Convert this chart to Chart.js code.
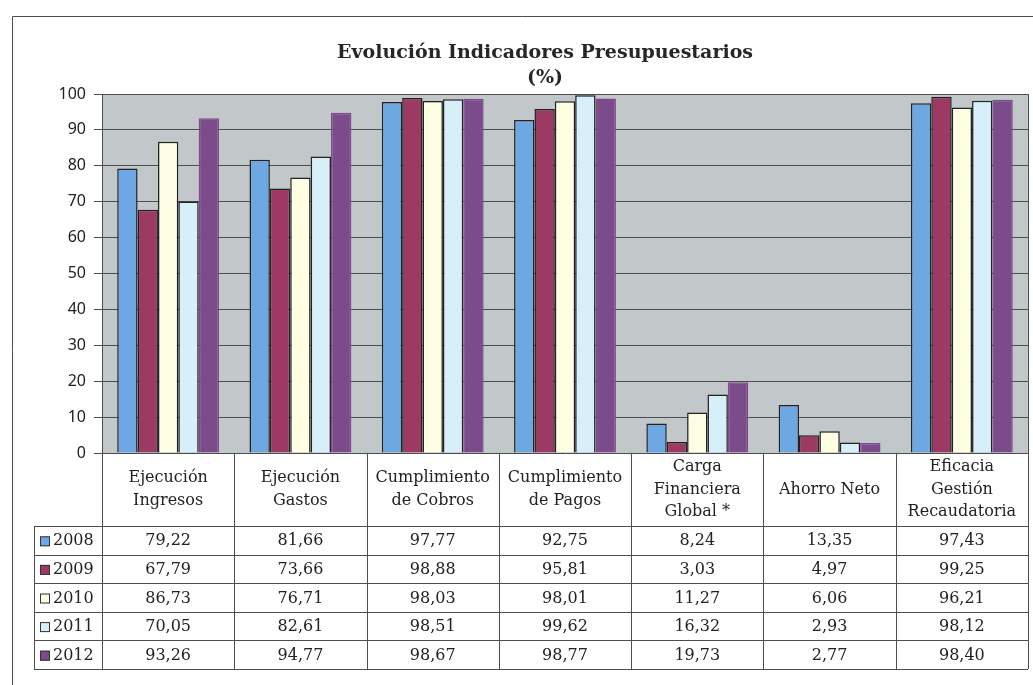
<!DOCTYPE html>
<html>
<head>
<meta charset="utf-8">
<script src="https://cdn.jsdelivr.net/npm/chart.js@4.4.1/dist/chart.umd.min.js"></script>
<style>
  html, body { margin: 0; padding: 0; background: #fff; }
  #wrap { width: 1033px; height: 685px; position: relative; }
</style>
</head>
<body>
<div id="wrap"><canvas id="chart"></canvas></div>
<script>
const categories = [
    ['Ejecución', 'Ingresos'],
    ['Ejecución', 'Gastos'],
    ['Cumplimiento', 'de Cobros'],
    ['Cumplimiento', 'de Pagos'],
    ['Carga', 'Financiera', 'Global *'],
    ['Ahorro Neto'],
    ['Eficacia', 'Gestión', 'Recaudatoria']
];
const years = ['2008', '2009', '2010', '2011', '2012'];
const values2008 = [79.22, 81.66, 97.77, 92.75, 8.24, 13.35, 97.43];
const values2009 = [67.79, 73.66, 98.88, 95.81, 3.03, 4.97, 99.25];
const values2010 = [86.73, 76.71, 98.03, 98.01, 11.27, 6.06, 96.21];
const values2011 = [70.05, 82.61, 98.51, 99.62, 16.32, 2.93, 98.12];
const values2012 = [93.26, 94.77, 98.67, 98.77, 19.73, 2.77, 98.40];
const yTicks = [0, 10, 20, 30, 40, 50, 60, 70, 80, 90, 100];

const seriesValues = [values2008, values2009, values2010, values2011, values2012];
const fillColors = ['#6ea8e2', '#9c3a63', '#fefee2', '#d6eff9', '#7c4b8c'];
const edgeColors = ['#222', '#222', '#222', '#222', '#7c4b8c'];

const SERIF = "'DejaVu Serif', serif";
const SANS = "'Noto Sans', sans-serif";
const LINE = '#4d4d4d';

function fmt(v) { return v.toFixed(2).replace('.', ','); }

const tablePlugin = {
    id: 'tablePlugin',
    beforeDraw(chart) {
        const { ctx, chartArea: a } = chart;
        ctx.save();
        ctx.fillStyle = '#ffffff';
        ctx.fillRect(0, 0, chart.width, chart.height);
        ctx.fillStyle = '#c2c7c9';
        ctx.fillRect(a.left, a.top, a.right - a.left, a.bottom - a.top);
        ctx.restore();
    },
    afterDraw(chart) {
        const { ctx, chartArea: a } = chart;
        const xs = chart.scales.x;
        const n = categories.length;
        const cw = (a.right - a.left) / n;
        const headTop = a.bottom;
        const rowTop = a.bottom + 73;
        const rowH = 28.6;
        const tableBottom = rowTop + rowH * years.length;
        const legLeft = 34;

        ctx.save();
        ctx.strokeStyle = LINE;
        ctx.lineWidth = 1;

        // outer frame
        ctx.beginPath();
        ctx.moveTo(12.5, 685); ctx.lineTo(12.5, 16.5); ctx.lineTo(1033, 16.5);
        ctx.stroke();

        // plot right border
        ctx.beginPath();
        ctx.moveTo(Math.round(a.right) + 0.5, a.top);
        ctx.lineTo(Math.round(a.right) + 0.5, tableBottom);
        ctx.stroke();

        // vertical lines of the table
        for (let i = 0; i < n; i++) {
            const x = Math.round(a.left + cw * i) + 0.5;
            ctx.beginPath();
            ctx.moveTo(x, headTop);
            ctx.lineTo(x, tableBottom);
            ctx.stroke();
        }
        ctx.beginPath();
        ctx.moveTo(legLeft + 0.5, rowTop);
        ctx.lineTo(legLeft + 0.5, tableBottom);
        ctx.stroke();

        // horizontal lines
        for (let r = 0; r <= years.length; r++) {
            const y = Math.round(rowTop + rowH * r) + 0.5;
            ctx.beginPath();
            ctx.moveTo(legLeft, y);
            ctx.lineTo(a.right, y);
            ctx.stroke();
        }

        // category header labels
        ctx.fillStyle = '#222';
        ctx.font = '16px ' + SERIF;
        ctx.textAlign = 'center';
        ctx.textBaseline = 'middle';
        const lh = 22.5;
        const headMid = (headTop + rowTop) / 2;
        categories.forEach((lines, i) => {
            const cx = xs.getPixelForValue(i);
            const y0 = headMid - (lines.length - 1) * lh / 2;
            lines.forEach((t, k) => ctx.fillText(t, cx, y0 + k * lh));
        });

        // data rows
        years.forEach((yr, r) => {
            const cy = rowTop + rowH * r + rowH / 2 + 1;
            ctx.fillStyle = fillColors[r];
            ctx.fillRect(40, cy - 5, 10, 10);
            ctx.strokeStyle = '#333';
            ctx.strokeRect(40.5, cy - 4.5, 9, 9);
            ctx.fillStyle = '#222';
            ctx.textAlign = 'left';
            ctx.fillText(yr, 53, cy);
            ctx.textAlign = 'center';
            seriesValues[r].forEach((v, i) => {
                ctx.fillText(fmt(v), xs.getPixelForValue(i), cy);
            });
        });

        // title
        ctx.fillStyle = '#262626';
        ctx.font = 'bold 19px ' + SERIF;
        ctx.fillText('Evolución Indicadores Presupuestarios', 545, 53);
        ctx.fillText('(%)', 545, 78);
        ctx.restore();
    }
};

const datasets = years.map((yr, i) => ({
    label: yr,
    data: seriesValues[i],
    backgroundColor: fillColors[i],
    borderColor: edgeColors[i],
    borderWidth: 1.5,
    borderSkipped: 'bottom',
    categoryPercentage: 0.77,
    barPercentage: 1.0
}));

new Chart(document.getElementById('chart'), {
    type: 'bar',
    data: { labels: categories, datasets },
    options: {
        responsive: true,
        maintainAspectRatio: false,
        animation: false,
        layout: { padding: { top: 94, right: 5, bottom: 232, left: 0 } },
        plugins: { legend: { display: false }, title: { display: false }, tooltip: { enabled: false } },
        scales: {
            x: { display: false },
            y: {
                min: 0,
                max: 100,
                afterFit(scale) { scale.width = 102; },
                afterBuildTicks(scale) { scale.ticks = yTicks.map(v => ({ value: v })); },
                ticks: { color: '#222', font: { family: SANS, size: 16 }, padding: 8 },
                grid: { color: LINE, lineWidth: 1, tickLength: 8 },
                border: { color: LINE, width: 1 }
            }
        }
    },
    plugins: [tablePlugin]
});
</script>
</body>
</html>
